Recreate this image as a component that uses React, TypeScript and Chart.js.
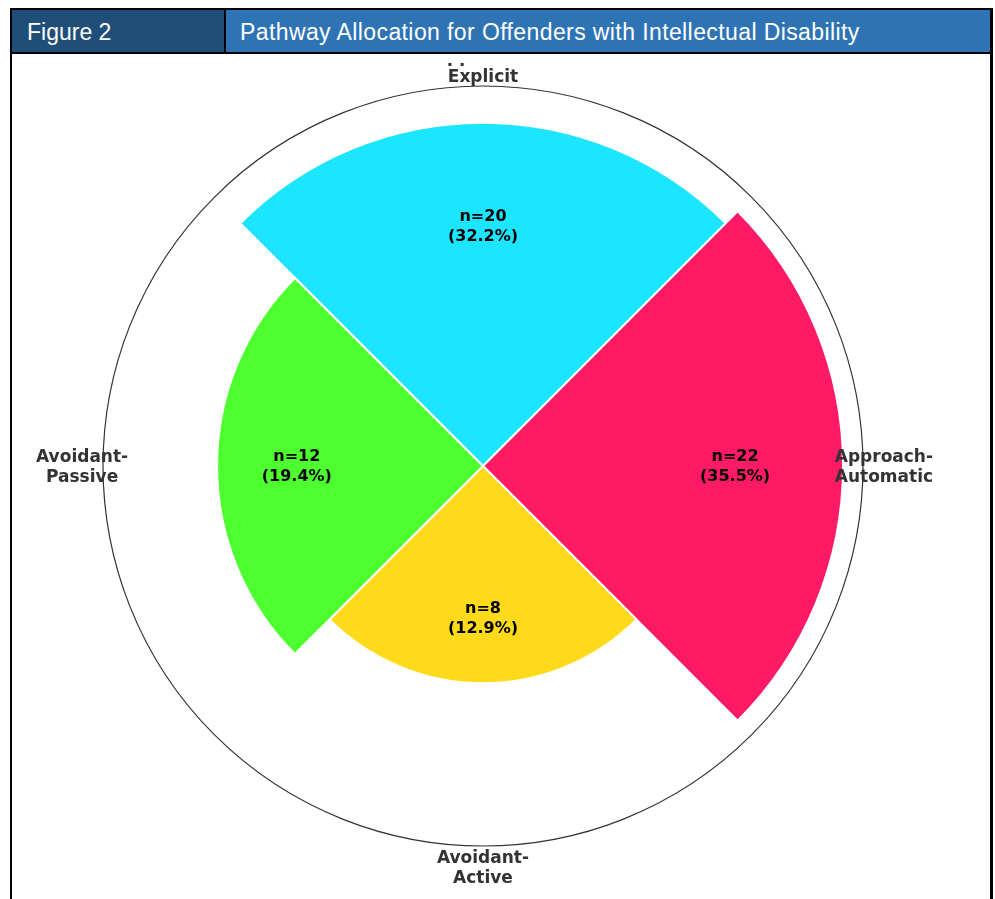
import React, { useEffect, useRef } from "react";
import { Chart, registerables } from "chart.js";

Chart.register(...registerables);

const figureLabel = "Figure 2";
const titleText = "Pathway Allocation for Offenders with Intellectual Disability";
const categories = ["Approach-Explicit", "Approach-Automatic", "Avoidant-Active", "Avoidant-Passive"];
const counts = [20, 22, 8, 12];
const percentLabels = ["32.2%", "35.5%", "12.9%", "19.4%"];
const colors = ["#1ce5ff", "#ff1a66", "#ffda1a", "#4dff2e"];
const radialMax = 4.95; // radius axis limit (square-root scale of counts)

const labelPlugin = {
  id: "pathLabels",
  afterDatasetsDraw(chart: any) {
    const ctx = chart.ctx;
    const scale = chart.scales.r;
    const meta = chart.getDatasetMeta(0);
    ctx.save();
    ctx.textAlign = "center";
    ctx.textBaseline = "middle";
    meta.data.forEach((arc: any, i: number) => {
      const p = arc.getProps(["startAngle", "endAngle", "outerRadius", "x", "y"], true);
      const mid = (p.startAngle + p.endAngle) / 2;
      // value labels
      const r = p.outerRadius * 0.7;
      const cx = p.x + Math.cos(mid) * r;
      const cy = p.y + Math.sin(mid) * r;
      ctx.fillStyle = "#000";
      ctx.font = "bold 16px 'DejaVu Sans'";
      ctx.fillText("n=" + counts[i], cx, cy - 9);
      ctx.fillText("(" + percentLabels[i] + ")", cx, cy + 11);
      // category labels
      const R = scale.drawingArea * 1.055;
      const lx = scale.xCenter + Math.cos(mid) * R;
      const ly = scale.yCenter + Math.sin(mid) * R + 2;
      const lines = categories[i].replace("-", "-\n").split("\n");
      ctx.fillStyle = "#333";
      ctx.font = "bold 17px 'DejaVu Sans'";
      const lh = 20;
      lines.forEach((ln: string, k: number) => {
        ctx.fillText(ln, lx, ly + (k - (lines.length - 1) / 2) * lh);
      });
    });
    ctx.restore();
  },
};

function PolarChart() {
  const ref = useRef<HTMLCanvasElement>(null);
  useEffect(() => {
    if (!ref.current) return;
    const chart = new Chart(ref.current, {
      type: "polarArea",
      data: {
        labels: categories,
        datasets: [
          {
            data: counts.map((c) => Math.sqrt(c)),
            backgroundColor: colors,
            borderColor: "#ffffff",
            borderWidth: 2,
          },
        ],
      },
      options: {
        responsive: false,
        animation: false,
        devicePixelRatio: 1,
        layout: { padding: { left: 91, right: 127, top: 76, bottom: 53 } },
        plugins: {
          legend: { display: false },
          tooltip: { enabled: false },
        },
        scales: {
          r: {
            min: 0,
            max: radialMax,
            startAngle: -45,
            ticks: { display: false, stepSize: radialMax },
            grid: { color: "#333333", lineWidth: 1.2, circular: true },
            angleLines: { display: false },
            pointLabels: { display: false },
          },
        },
      } as any,
      plugins: [labelPlugin],
    });
    return () => chart.destroy();
  }, []);
  return <canvas ref={ref} width={978} height={889} style={{ display: "block" }} />;
}

export default function App() {
  return (
    <div style={{ position: "absolute", left: 0, top: 0, width: 995, height: 899, overflow: "hidden", background: "#fff" }}>
      <div
        style={{
          position: "absolute",
          left: 10,
          top: 8,
          width: 983,
          height: 920,
          boxSizing: "border-box",
          borderTop: "2px solid #000",
          borderLeft: "2px solid #000",
          borderRight: "3px solid #000",
        }}
      />
      <div style={{ position: "absolute", left: 12, top: 63, width: 978, height: 836, overflow: "hidden", zIndex: 0 }}>
        <div style={{ position: "absolute", left: 0, top: -53 }}>
          <PolarChart />
        </div>
      </div>
      <div
        style={{
          position: "absolute",
          left: 12,
          top: 10,
          width: 978,
          height: 44,
          boxSizing: "border-box",
          borderBottom: "2px solid #000",
          display: "flex",
          zIndex: 1,
          fontFamily: "'Liberation Sans', Arial, sans-serif",
          fontSize: 23,
          color: "#fff",
        }}
      >
        <div
          style={{
            width: 214,
            boxSizing: "border-box",
            background: "#1f4e79",
            borderRight: "2px solid #000",
            paddingLeft: 15,
            paddingTop: 3,
            display: "flex",
            alignItems: "center",
          }}
        >
          {figureLabel}
        </div>
        <div
          style={{
            flex: 1,
            background: "#2e74b5",
            paddingLeft: 14,
            paddingTop: 3,
            letterSpacing: 0.4,
            display: "flex",
            alignItems: "center",
          }}
        >
          {titleText}
        </div>
      </div>
    </div>
  );
}
